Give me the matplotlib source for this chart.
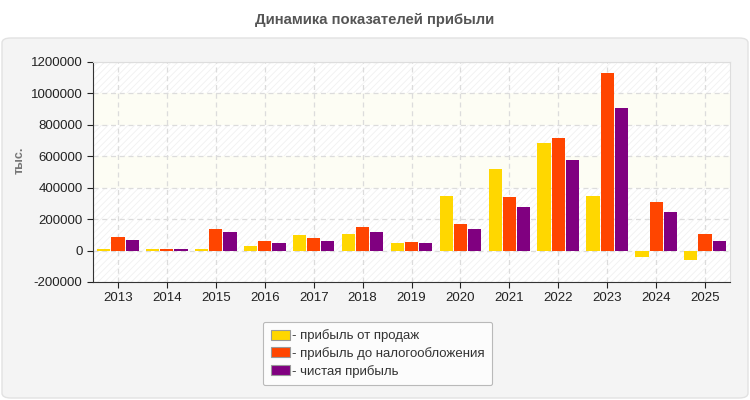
import numpy as np
import matplotlib
matplotlib.use("Agg")
import matplotlib.pyplot as plt
from matplotlib.patches import FancyBboxPatch, Patch

plt.rcParams["font.family"] = ["Liberation Sans", "DejaVu Sans"]
plt.rcParams["hatch.linewidth"] = 0.6

# Данные
years = ["2013", "2014", "2015", "2016", "2017", "2018", "2019",
         "2020", "2021", "2022", "2023", "2024", "2025"]
pribyl_prodazh = [13000, 13000, 13000, 26000, 102000, 108000, 51000,
                  345000, 517000, 683000, 345000, -38000, -57000]
pribyl_do_nalog = [89000, 13000, 140000, 64000, 77000, 147000, 57000,
                   172000, 338000, 715000, 1130000, 306000, 108000]
chistaya = [70000, 13000, 115000, 51000, 64000, 115000, 45000,
            140000, 275000, 575000, 907000, 243000, 64000]

series = [
    ("- прибыль от продаж", pribyl_prodazh, "#FFD700"),
    ("- прибыль до налогообложения", pribyl_do_nalog, "#FF4500"),
    ("- чистая прибыль", chistaya, "#800080"),
]

fig = plt.figure(figsize=(7.5, 4), dpi=100)
fig.patch.set_facecolor("white")

# серая панель со скруглёнными углами
panel = FancyBboxPatch((2 / 750, 2 / 400), 746 / 750, 360 / 400,
                       boxstyle="round,pad=0,rounding_size=0.012",
                       transform=fig.transFigure, facecolor="#f4f4f4",
                       edgecolor="#e2e2e2", linewidth=1, zorder=-5)
fig.add_artist(panel)

fig.text(0.5, 1 - 20 / 400, "Динамика показателей прибыли", ha="center", va="center",
         fontsize=10.7, fontweight="bold", color="#555555")

ax = fig.add_axes([93 / 750, 1 - 282 / 400, 637 / 750, 220 / 400])
ax.set_facecolor("white")

# фон: чередование полос
bands = [(-200000, 400000, True), (400000, 600000, False), (600000, 800000, True),
         (800000, 1000000, False), (1000000, 1200000, True)]
for lo, hi, hatched in bands:
    if hatched:
        ax.axhspan(lo, hi, facecolor="white", edgecolor="#f1f1f1", hatch="/////",
                   linewidth=0, zorder=0)
    else:
        ax.axhspan(lo, hi, facecolor="#fdfdf4", linewidth=0, zorder=0)

x = np.arange(len(years))
w = 0.27
step = 0.29
for i, (name, vals, col) in enumerate(series):
    ax.bar(x + (i - 1) * step, vals, width=w, color=col, zorder=3)

ax.set_xlim(-0.51, len(years) - 0.49)
ax.set_ylim(-200000, 1200000)
ax.set_yticks(np.arange(-200000, 1200001, 200000))
ax.set_yticklabels([str(v) for v in np.arange(-200000, 1200001, 200000)])
ax.set_xticks(x)
ax.set_xticklabels(years)

ax.grid(True, color="#dcdcdc", linestyle=(0, (4, 3)), linewidth=0.9, zorder=1)
ax.set_axisbelow(True)

for s in ["top", "right"]:
    ax.spines[s].set_color("#dddddd")
for s in ["left", "bottom"]:
    ax.spines[s].set_color("#333333")
ax.tick_params(axis="both", labelsize=9.5, colors="#222222", length=4, width=0.8)
ax.tick_params(axis="x", pad=3)

fig.text(20 / 750, 1 - 160 / 400, "тыс.", rotation=90, ha="center", va="center",
         fontsize=9, fontweight="bold", color="#777777")

handles = [Patch(facecolor=c, edgecolor="#999999", linewidth=0.8) for _, _, c in series]
leg = fig.legend(handles, [n for n, _, _ in series], loc="upper left",
                 bbox_to_anchor=(256 / 750, 1 - 315 / 400), fontsize=9.5,
                 frameon=True, handlelength=1.5, handleheight=0.8, handletextpad=0.1,
                 labelspacing=0.35, borderpad=0.6, fancybox=True)
leg.get_frame().set_edgecolor("#aaaaaa")
leg.get_frame().set_facecolor("white")
leg.get_frame().set_linewidth(0.8)
for t in leg.get_texts():
    t.set_color("#333333")

fig.savefig("out.png", dpi=100)
